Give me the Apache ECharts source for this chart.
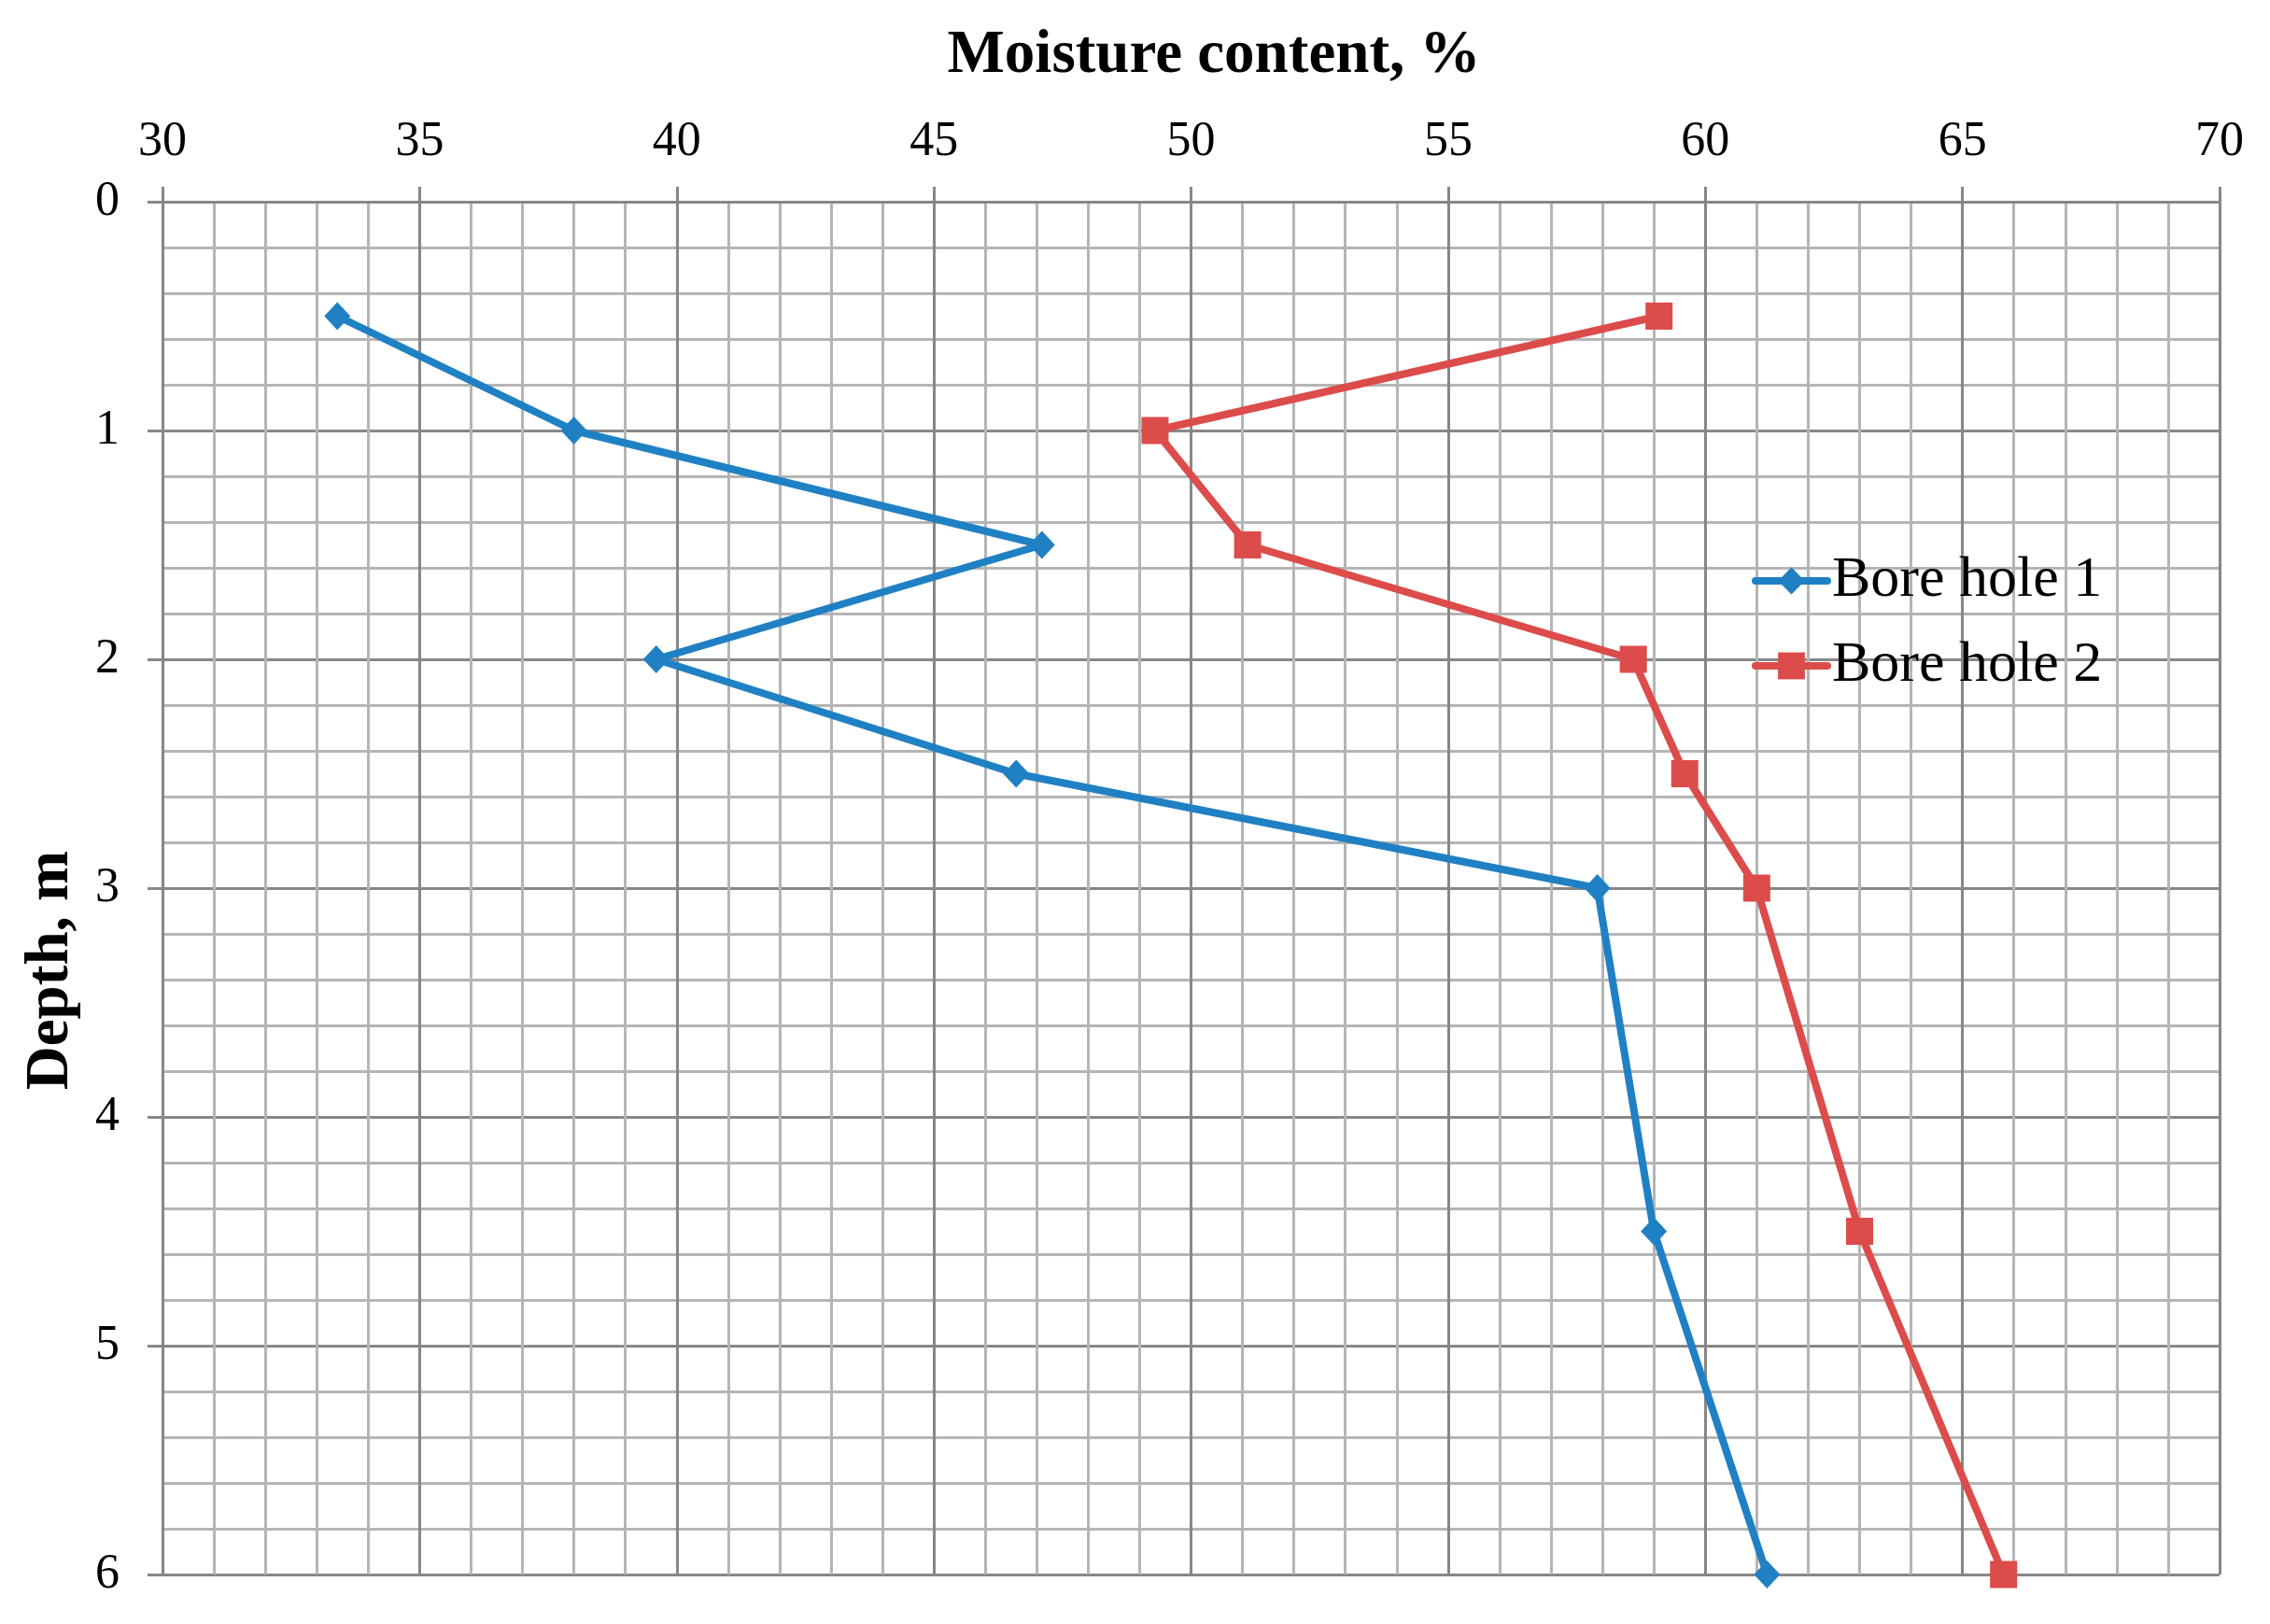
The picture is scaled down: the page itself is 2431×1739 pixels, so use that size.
<!DOCTYPE html>
<html>
<head>
<meta charset="utf-8">
<script src="https://cdn.jsdelivr.net/npm/echarts@6/dist/echarts.min.js"></script>
<style>
  html, body { margin: 0; padding: 0; background: #fff; }
  #chart { width: 2431px; height: 1739px; }
</style>
</head>
<body>
<div id="chart"></div>
<script>
var depths = [0.5, 1, 1.5, 2, 2.5, 3, 4.5, 6];
var boreHole1 = [33.4, 38.0, 47.1, 39.6, 46.6, 57.9, 59.0, 61.2];
var boreHole2 = [59.1, 49.3, 51.1, 58.6, 59.6, 61.0, 63.0, 65.8];
var seriesNames = ['Bore hole 1', 'Bore hole 2'];
var xTitle = 'Moisture content, %';
var yTitle = 'Depth, m';

var font = 'Liberation Serif';
var major = '#878787';
var minor = '#b5b5b5';

function pairs(vals) {
  return vals.map(function (v, i) { return [v, depths[i]]; });
}

var chart = echarts.init(document.getElementById('chart'));

chart.setOption({
  backgroundColor: '#fff',
  animation: false,
  grid: { left: 174, top: 216, right: 54, bottom: 53 },
  graphic: [
    {
      type: 'text', x: 1300, y: 60,
      style: { text: xTitle, fontFamily: font, fontWeight: 'bold', fontSize: 65,
        fill: '#000', textAlign: 'center', textVerticalAlign: 'middle' }
    },
    {
      type: 'text', x: 55, y: 1039, rotation: Math.PI / 2,
      style: { text: yTitle, fontFamily: font, fontWeight: 'bold', fontSize: 65,
        fill: '#000', textAlign: 'center', textVerticalAlign: 'middle' }
    }
  ],
  legend: {
    orient: 'vertical',
    left: 1871,
    top: 586,
    itemWidth: 77,
    itemHeight: 36,
    itemGap: 29,
    data: seriesNames,
    lineStyle: { width: 8, cap: 'round' },
    textStyle: { fontFamily: font, fontSize: 62, color: '#000' }
  },
  xAxis: {
    type: 'value',
    position: 'top',
    min: 30, max: 70, interval: 5,
    axisLine: { show: true, lineStyle: { color: major, width: 3 } },
    axisTick: { show: true, length: 16, lineStyle: { color: major, width: 3 } },
    axisLabel: { fontFamily: font, fontSize: 52, color: '#000', margin: 38 },
    splitLine: { show: true, lineStyle: { color: major, width: 3 } },
    minorTick: { show: false, splitNumber: 5 },
    minorSplitLine: { show: true, lineStyle: { color: minor, width: 3 } }
  },
  yAxis: {
    type: 'value',
    inverse: true,
    min: 0, max: 6, interval: 1,
    axisLine: { show: true, lineStyle: { color: major, width: 3 } },
    axisTick: { show: true, length: 16, lineStyle: { color: major, width: 3 } },
    axisLabel: { fontFamily: font, fontSize: 52, color: '#000', margin: 46 },
    splitLine: { show: true, lineStyle: { color: major, width: 3 } },
    minorTick: { show: false, splitNumber: 5 },
    minorSplitLine: { show: true, lineStyle: { color: minor, width: 3 } }
  },
  series: [
    {
      name: seriesNames[0],
      type: 'line',
      data: pairs(boreHole1),
      symbol: 'diamond',
      symbolSize: [28, 30],
      color: '#1a7cc1',
      lineStyle: { width: 8, cap: 'round', join: 'round' },
      itemStyle: { color: '#2080c4' }
    },
    {
      name: seriesNames[1],
      type: 'line',
      data: pairs(boreHole2),
      symbol: 'rect',
      symbolSize: [29, 29],
      color: '#db4b4a',
      lineStyle: { width: 8, cap: 'round', join: 'round' },
      itemStyle: { color: '#dc4c4b' }
    }
  ]
});
</script>
</body>
</html>
